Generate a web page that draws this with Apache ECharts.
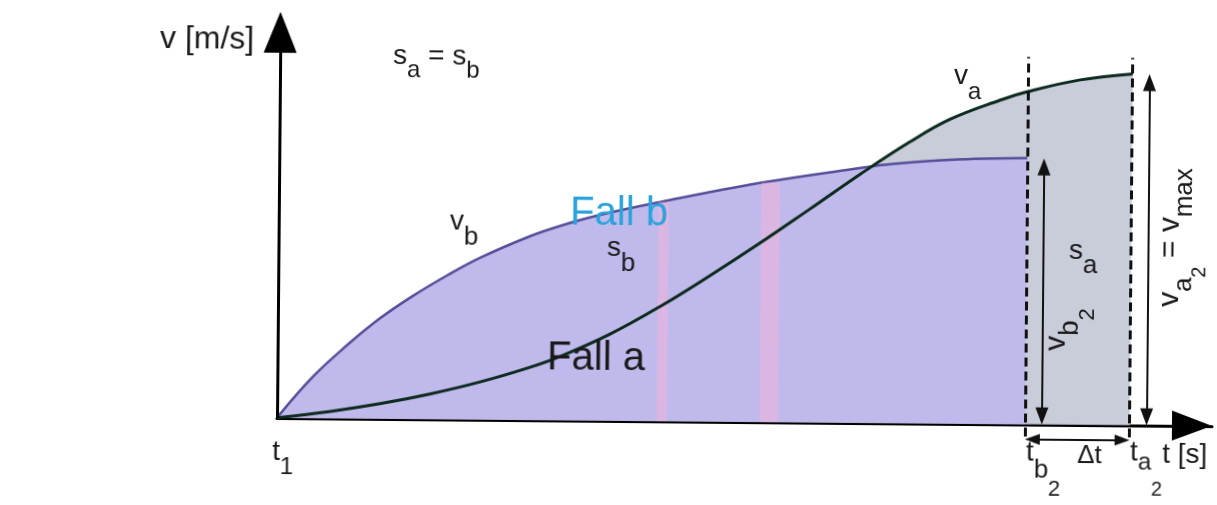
<!DOCTYPE html>
<html>
<head>
<meta charset="utf-8">
<title>v-t Diagramm Fall a / Fall b</title>
<script src="https://cdn.jsdelivr.net/npm/echarts@6.0.0/dist/echarts.min.js"></script>
<style>
  html, body { margin: 0; padding: 0; background: #fff; }
  /* the scanned figure is turned a little clockwise around the origin */
  #chart { width: 1217px; height: 505px; transform: rotate(0.5deg); transform-origin: 277px 418px; }
</style>
</head>
<body>
<div id="chart"></div>
<script>
// Fall b: schneller Anstieg, dann fast konstant
const tB = [0, 0.38, 0.74, 1.09, 1.44, 1.81, 2.16, 2.69, 3.01, 3.44, 4.08, 5.14, 6.21, 6.57, 7.17, 8.00]
const vB = [0, 1.02, 1.80, 2.47, 3.03, 3.55, 3.99, 4.53, 4.79, 5.07, 5.40, 5.89, 6.28, 6.39, 6.50, 6.56]

// Fall a: S-Kurve bis v_max
const tA = [0, 0.57, 1.10, 1.63, 2.17, 2.70, 3.02, 3.55, 4.09, 4.62, 5.15, 5.68, 6.21, 6.74, 7.17, 7.70, 8.00, 8.56, 9.12]
const vA = [0, 0.17, 0.37, 0.62, 0.93, 1.30, 1.57, 2.13, 2.83, 3.60, 4.41, 5.26, 6.12, 6.93, 7.50, 7.98, 8.20, 8.50, 8.66]

// end points t_b2 / t_a2 and the end speeds
const tB2 = tB[tB.length - 1]
const tA2 = tA[tA.length - 1]
const vB2 = vB[vB.length - 1]
const vA2 = vA[vA.length - 1]

const FONT = '"Liberation Sans", Arial, sans-serif'
const INK = '#1a1a1a'

const chart = echarts.init(document.getElementById('chart'))

// scan rotation: screen position -> position inside the (rotated) chart
const ROT = 0.5 * Math.PI / 180
const OX = 277, OY = 418
function unrot(x, y) {
  const dx = x - OX, dy = y - OY
  const c = Math.cos(ROT), s = Math.sin(ROT)
  return [OX + dx * c + dy * s, OY - dx * s + dy * c]
}

const meas = document.createElement('canvas').getContext('2d')
function textW(str, size) {
  meas.font = size + 'px ' + FONT
  return meas.measureText(str).width
}

// text with sub-/subsub-scripts, anchored at the baseline start
function makeLabel(sx, sy, parts, color, rotDeg) {
  const p = unrot(sx, sy)
  let cx = 0
  const children = parts.map(function (part) {
    const str = part[0], size = part[1], dy = part[2] || 0
    const el = {
      type: 'text',
      x: cx,
      y: dy - 0.35 * size,
      z: 100,
      style: { text: str, fontSize: size, fontFamily: FONT, fill: color || INK, verticalAlign: 'middle', align: 'left' },
    }
    cx += textW(str, size)
    return el
  })
  return { type: 'group', x: p[0], y: p[1], rotation: (rotDeg || 0) * Math.PI / 180, children: children, z: 100, silent: true }
}

const labels = [
  makeLabel(160, 50, [['v [m/s]', 32]]),
  makeLabel(393, 66, [['s', 28], ['a', 24, 13], [' = ', 28], ['s', 28], ['b', 24, 13]]),
  makeLabel(450, 232, [['v', 28], ['b', 26, 14]]),
  makeLabel(570, 228, [['Fall b', 40]], '#2aa3dd'),
  makeLabel(607, 258, [['s', 28], ['b', 26, 15]]),
  makeLabel(547, 372, [['Fall a', 40]]),
  makeLabel(954, 86, [['v', 28], ['a', 24, 15]]),
  makeLabel(1069, 261, [['s', 28], ['a', 26, 14]]),
  makeLabel(1067, 351, [['v', 30], ['b', 28, 13], ['2', 22, 28]], null, 90),
  makeLabel(1180, 307, [['v', 30], ['a', 26, 13], ['2', 20, 26], [' = ', 30], ['v', 30], ['max', 26, 13]], null, 90),
  makeLabel(272, 462, [['t', 28], ['1', 24, 14]]),
  makeLabel(1026, 463, [['t', 28], ['b', 26, 16], ['2', 22, 34]]),
  makeLabel(1077, 465, [['Δt', 26]]),
  makeLabel(1130, 463, [['t', 28], ['a', 24, 8], ['2', 20, 34]]),
  makeLabel(1162, 465, [['t [s]', 28]]),
]

const ptsA = tA.map((t, i) => [t, vA[i]])
const ptsB = tB.map((t, i) => [t, vB[i]])

const dashed = { type: [9, 5], width: 3, color: '#111' }
const solid = { type: 'solid', width: 2, color: '#111' }
const head = [13, 17]
const gap = 0.18

const option = {
  animation: false,
  backgroundColor: '#ffffff',
  grid: { left: 277, right: 5, top: 12, bottom: 6, outerBoundsMode: 'none' },
  xAxis: {
    type: 'value',
    min: 0,
    max: 10,
    axisLine: {
      onZero: true,
      symbol: ['none', 'triangle'],
      symbolSize: [30, 40],
      symbolOffset: [0, -20],
      lineStyle: { color: '#000', width: 3 },
    },
    axisTick: { show: false },
    axisLabel: { show: false },
    splitLine: { show: false },
  },
  yAxis: {
    type: 'value',
    min: -2,
    max: 10,
    axisLine: { show: false },
    axisTick: { show: false },
    axisLabel: { show: false },
    splitLine: { show: false },
  },
  series: [
    {
      // grey area under v_a (only visible above v_b and after t_b2)
      name: 's_a',
      type: 'line',
      data: ptsA,
      smooth: 0.4,
      symbol: 'none',
      lineStyle: { width: 0 },
      areaStyle: { color: '#c9ccd9', opacity: 1 },
      z: 1,
      silent: true,
    },
    {
      name: 'v_b',
      type: 'line',
      data: ptsB,
      smooth: 0.4,
      symbol: 'none',
      lineStyle: { color: '#554e98', width: 2.5 },
      areaStyle: { color: '#bfbaeb', opacity: 1 },
      z: 2,
      silent: true,
    },
    {
      name: 'v_a',
      type: 'line',
      data: ptsA,
      smooth: 0.4,
      symbol: 'none',
      lineStyle: { color: '#0d2a1e', width: 3 },
      z: 3,
      silent: true,
      markArea: {
        silent: true,
        z: 2.5,
        itemStyle: { color: 'rgba(255,178,215,0.45)' },
        data: [
          [{ coord: [4.06, 0] }, { coord: [4.17, 5.4] }],
          [{ coord: [5.16, 0] }, { coord: [5.36, 5.9] }],
        ],
      },
      markLine: {
        silent: true,
        symbol: 'none',
        label: { show: false },
        emphasis: { disabled: true },
        data: [
          // v axis with arrow
          [
            { coord: [0, 0], symbol: 'none', lineStyle: { type: 'solid', width: 3, color: '#000' } },
            { coord: [0, 9.5], symbol: 'triangle', symbolSize: [33, 41] },
          ],
          // t_b2 and t_a2
          [{ coord: [tB2, -0.3], lineStyle: dashed }, { coord: [tB2, 9.05] }],
          [{ coord: [tA2, -0.3], lineStyle: dashed }, { coord: [tA2, 9.05] }],
          // v_b2 arrow
          [
            { coord: [tB2 + gap, 0.21], symbol: 'triangle', symbolSize: head, lineStyle: solid },
            { coord: [tB2 + gap, vB2 - 0.21], symbol: 'triangle', symbolSize: head },
          ],
          // v_a2 = v_max arrow
          [
            { coord: [tA2 + gap, 0.21], symbol: 'triangle', symbolSize: head, lineStyle: solid },
            { coord: [tA2 + gap, vA2 - 0.21], symbol: 'triangle', symbolSize: head },
          ],
          // delta t
          [
            { coord: [tB2 + 0.08, -0.37], symbol: 'triangle', symbolSize: [11, 15], lineStyle: solid },
            { coord: [tA2 - 0.08, -0.37], symbol: 'triangle', symbolSize: [11, 15] },
          ],
        ],
      },
    },
  ],
  graphic: labels,
}

chart.setOption(option)
</script>
</body>
</html>
